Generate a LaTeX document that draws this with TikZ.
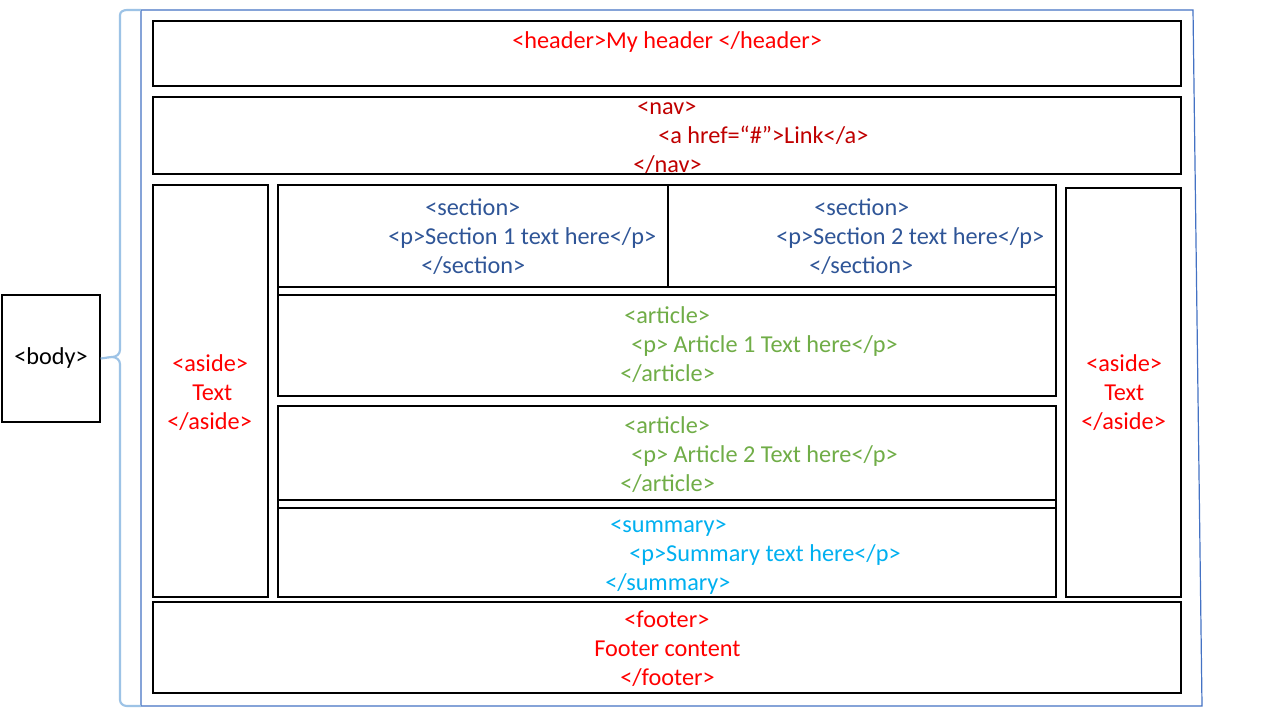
\documentclass[tikz,border=0pt]{standalone}
\usepackage{fontspec}
\setmainfont{Carlito}
\definecolor{hred}{HTML}{FF0000}
\definecolor{nred}{HTML}{C00000}
\definecolor{secblue}{HTML}{2F5597}
\definecolor{artgreen}{HTML}{70AD47}
\definecolor{sumcyan}{HTML}{00B0F0}
\definecolor{framecol}{HTML}{4472C4}
\definecolor{bracecol}{HTML}{9DC3E6}
\begin{document}
\begin{tikzpicture}[x=0.75pt,y=-0.75pt,
  boxline/.style={draw=black,line width=0.95pt},
  txt/.style={inner sep=0pt,anchor=base west,font=\fontsize{18.2}{21.75}\selectfont},
  frameline/.style={draw=framecol,line width=0.9pt},
  braceline/.style={draw=bracecol,line width=1.6pt}]
\useasboundingbox (0,0) rectangle (1280,720);
\fill[white] (0,0) rectangle (1280,720);
% outer frame
\draw[frameline] (141,10) -- (1193,10) -- (1202,706) -- (141,706) -- cycle;
% brace
\coordinate (tip) at (112,357);
\draw[braceline] (141,10) -- (127,10) to[out=180,in=90] (120,15) -- (120,350)
  to[out=-90,in=0] (tip) to[out=0,in=90] (120,364) -- (120,700)
  to[out=-90,in=180] (127,706) -- (141,706);
% body
\node[boxline,minimum width=73.5pt,minimum height=95.25pt,inner sep=0pt,
  font=\fontsize{18.2}{21.75}\selectfont] (body) at (51,358.5) {<body>};
\draw[braceline] (tip) -- (body.east);
% boxes
\draw[boxline] (153,21) rectangle (1181,86);
\draw[boxline] (153,97) rectangle (1181,174);
\draw[boxline] (153,185) rectangle (268,597);
\draw[boxline] (1066,188) rectangle (1181,597);
\draw[boxline] (278,185) rectangle (668,287);
\draw[boxline] (668,185) rectangle (1056,287);
\draw[boxline] (278,287) rectangle (1056,295);
\draw[boxline] (278,295) rectangle (1056,396);
\draw[boxline] (278,406) rectangle (1056,500);
\draw[boxline] (278,500) rectangle (1056,508);
\draw[boxline] (278,508) rectangle (1056,597);
\draw[boxline] (153,602) rectangle (1181,693);
% header
\node[txt,text=hred] (hdr) at (512,49) {<header>My header </header>};
% nav
\node[txt,text=nred] (nav1) at (637,115) {<nav>};
\node[txt,text=nred] (nav2) at (658,144) {<a href=“\#”>Link</a>};
\node[txt,text=nred] (nav3) at (633,173) {</nav>};
% asides
\node[txt,text=hred] (la1) at (172,371) {<aside>};
\node[txt,text=hred] (la2) at (192,400) {Text};
\node[txt,text=hred] (la3) at (167,429) {</aside>};
\node[txt,text=hred] (ra1) at (1086,371) {<aside>};
\node[txt,text=hred] (ra2) at (1104,400) {Text};
\node[txt,text=hred] (ra3) at (1081,429) {</aside>};
% sections
\node[txt,text=secblue] (s11) at (425,215) {<section>};
\node[txt,text=secblue] (s12) at (388,244) {<p>Section 1 text here</p>};
\node[txt,text=secblue] (s13) at (421,273) {</section>};
\node[txt,text=secblue] (s21) at (814,215) {<section>};
\node[txt,text=secblue] (s22) at (776,244) {<p>Section 2 text here</p>};
\node[txt,text=secblue] (s23) at (809,273) {</section>};
% articles
\node[txt,text=artgreen] (a11) at (624,323) {<article>};
\node[txt,text=artgreen] (a12) at (631,352) {<p> Article 1 Text here</p>};
\node[txt,text=artgreen] (a13) at (620,381) {</article>};
\node[txt,text=artgreen] (a21) at (624,433) {<article>};
\node[txt,text=artgreen] (a22) at (631,462) {<p> Article 2 Text here</p>};
\node[txt,text=artgreen] (a23) at (620,491) {</article>};
% summary
\node[txt,text=sumcyan] (sm1) at (610,532) {<summary>};
\node[txt,text=sumcyan] (sm2) at (629,561) {<p>Summary text here</p>};
\node[txt,text=sumcyan] (sm3) at (605,590) {</summary>};
% footer
\node[txt,text=hred] (f1) at (624,627) {<footer>};
\node[txt,text=hred] (f2) at (594,656) {Footer content};
\node[txt,text=hred] (f3) at (620,685) {</footer>};
\end{tikzpicture}
\end{document}
